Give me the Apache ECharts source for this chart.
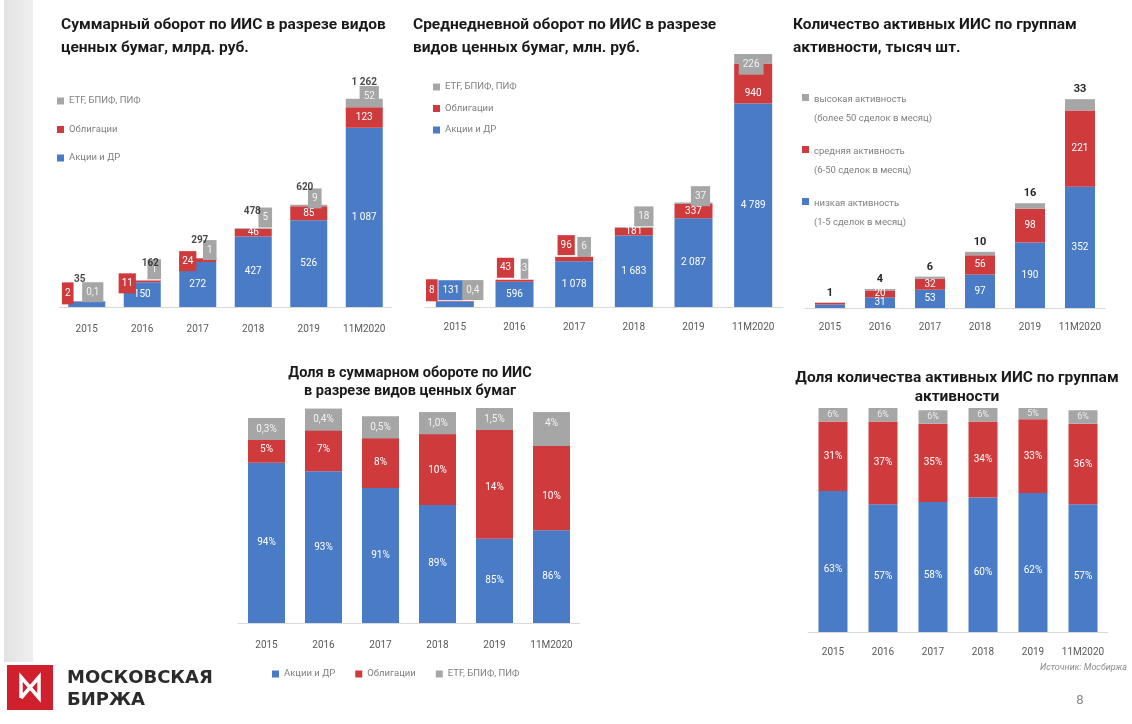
<!DOCTYPE html>
<html><head><meta charset="utf-8">
<script src="https://cdn.jsdelivr.net/npm/echarts@6/dist/echarts.min.js"></script>
<style>html,body{margin:0;padding:0;background:#fff}#c{width:1132px;height:724px}</style>
</head><body><div id="c"></div>
<script>
// ---------- DATA ----------
const years = ['2015', '2016', '2017', '2018', '2019', '11M2020'];
const secNames = ['Акции и ДР', 'Облигации', 'ETF, БПИФ, ПИФ'];
// 1. Суммарный оборот, млрд. руб.
const turnStocks = [33, 150, 272, 427, 526, 1087];
const turnBonds  = [2, 11, 24, 46, 85, 123];
const turnFunds  = [0.1, 1, 1, 5, 9, 52];
const turnTotal  = [35, 162, 297, 478, 620, 1262];
// 2. Среднедневной оборот, млн. руб.
const dailyStocks = [131, 596, 1078, 1683, 2087, 4789];
const dailyBonds  = [8, 43, 96, 181, 337, 940];
const dailyFunds  = [0.4, 3, 6, 18, 37, 226];
// 3. Количество активных ИИС, тысяч шт.
const actNames = ['низкая активность', 'средняя активность', 'высокая активность'];
const actSub = ['(1-5 сделок в месяц)', '(6-50 сделок в месяц)', '(более 50 сделок в месяц)'];
const accLow  = [10, 31, 53, 97, 190, 352];
const accMid  = [5, 20, 32, 56, 98, 221];
const accHigh = [1, 4, 6, 10, 16, 33];
// 4. Доля в суммарном обороте, %
const shareStocks = [94, 93, 91, 89, 85, 86];
const shareBonds  = [5, 7, 8, 10, 14, 10];
const shareFunds  = [0.3, 0.4, 0.5, 1.0, 1.5, 4];
// 5. Доля количества активных ИИС, %
const shareLow  = [63, 57, 58, 60, 62, 57];
const shareMid  = [31, 37, 35, 34, 33, 36];
const shareHigh = [6, 6, 6, 6, 5, 6];

// ---------- STYLE ----------
const BLUE = '#4a7bc6', RED = '#cf3a3c', GREY = '#a6a6a6';
const FONT = 'Roboto';

function fmt(v) {
  if (v < 1) return String(v).replace('.', ',');
  return String(v).replace(/\B(?=(\d{3})+(?!\d))/g, ' ');
}
function pct(v) {
  return (v < 2 ? v.toFixed(1).replace('.', ',') : String(v)) + '%';
}

// label callout placements (index -> offset / box)
const place1 = {
  stocks: {0: {hide: true}},
  bonds: {0: {off: [-19, -8], box: true, pad: [6, 3]}, 1: {off: [-15, 2], box: true, pad: [5, 3]}, 2: {off: [-10, 1], box: true, pad: [5, 3]}},
  funds: {0: {off: [6, -9], box: true}, 1: {off: [12, -11], box: true}, 2: {off: [12, -8], box: true}, 3: {off: [12, -11], box: true}, 4: {off: [6, -7], box: true}, 5: {off: [5, -7], box: true}},
  total: {0: {off: [-7, -15]}, 1: {off: [8, -10]}, 2: {off: [2, -10]}, 3: {off: [-1, -10]}, 4: {off: [-4, -10]}, 5: {off: [0, -9]}}
};
const place2 = {
  stocks: {0: {off: [-4, -14], box: true}},
  bonds: {0: {off: [-23, -11], box: true, pad: [6, 3]}, 1: {off: [-9, -13], box: true, pad: [5, 3]}, 2: {off: [-8, -14], box: true, pad: [5, 3]}, 5: {off: [0, 10]}},
  funds: {0: {off: [18, -11], box: true}, 1: {off: [10, -11], box: true, pad: [5, 1]}, 2: {off: [10, -10], box: true}, 3: {off: [10, -11], box: true}, 4: {off: [7, -7], box: true}, 5: {off: [-2, 6], box: true}}
};
const place3 = {low: {0: {hide: true}}, mid: {0: {hide: true}}};

function mk(vals, color, place) {
  return vals.map((v, i) => {
    const item = {value: v};
    const p = place && place[i];
    if (p) {
      if (p.hide) item.label = {show: false};
      else {
        item.label = {offset: p.off};
        if (p.box) Object.assign(item.label, {backgroundColor: color, padding: p.pad || [5, 4]});
      }
    }
    return item;
  });
}

function xAx(gi, margin) {
  return {type: 'category', gridIndex: gi, data: years,
    axisTick: {show: false},
    axisLine: {lineStyle: {color: '#d9d9d9', width: 1}},
    axisLabel: {color: '#595959', fontSize: 10, margin: margin, interval: 0, fontFamily: FONT}};
}
function yAx(gi, min, max) {
  return {type: 'value', gridIndex: gi, min: min, max: max, show: false};
}
function bar(name, gi, stack, data, color, width, label, clip) {
  return {type: 'bar', name: name, xAxisIndex: gi, yAxisIndex: gi, stack: stack,
    barWidth: width, data: data, itemStyle: {color: color}, clip: !!clip,
    emphasis: {disabled: true},
    label: Object.assign({show: true, position: 'inside', color: '#fff', fontSize: 10, fontFamily: FONT}, label || {})};
}
const titleStyle = {fontSize: 15.5, fontWeight: 'bold', color: '#1a1a1a', fontFamily: FONT, lineHeight: 23};
const legText = {fontSize: 9.5, color: '#7f7f7f', fontFamily: FONT, lineHeight: 12};

const option = {
  animation: false,
  backgroundColor: '#fff',
  textStyle: {fontFamily: FONT},
  title: [
    {text: 'Суммарный оборот по ИИС в разрезе видов\nценных бумаг, млрд. руб.', left: 56, top: 9, textStyle: titleStyle},
    {text: 'Среднедневной оборот по ИИС в разрезе\nвидов ценных бумаг, млн. руб.', left: 408, top: 9, textStyle: titleStyle},
    {text: 'Количество активных ИИС по группам\nактивности, тысяч шт.', left: 788, top: 9, textStyle: titleStyle},
    {text: 'Доля в суммарном обороте по ИИС\nв разрезе видов ценных бумаг', left: 405, textAlign: 'center', top: 359,
      textStyle: Object.assign({}, titleStyle, {fontSize: 14.5, lineHeight: 18})},
    {text: 'Доля количества активных ИИС по группам\nактивности', left: 952, textAlign: 'center', top: 364,
      textStyle: Object.assign({}, titleStyle, {lineHeight: 19})}
  ],
  legend: [
    {orient: 'vertical', left: 52, top: 90, itemGap: 16.5, itemWidth: 7, itemHeight: 7, icon: 'rect',
      data: [secNames[2], secNames[1], secNames[0]], textStyle: legText, selectedMode: false},
    {orient: 'vertical', left: 428, top: 76, itemGap: 9.5, itemWidth: 7, itemHeight: 7, icon: 'rect',
      data: [secNames[2], secNames[1], secNames[0]], textStyle: legText, selectedMode: false},
    {orient: 'vertical', left: 797, top: 85, itemGap: 14, itemWidth: 7, itemHeight: 30,
      icon: 'path://M0,0H7V7H0Z M0,30L0.01,30',
      data: [actNames[2], actNames[1], actNames[0]],
      formatter: n => n + '\n' + actSub[actNames.indexOf(n)],
      textStyle: Object.assign({}, legText, {lineHeight: 19}), selectedMode: false},
    {orient: 'horizontal', left: 267, top: 663, itemGap: 20, itemWidth: 7, itemHeight: 7, icon: 'rect',
      data: secNames, textStyle: legText, selectedMode: false}
  ],
  grid: [
    {left: 59, width: 333, top: 76, height: 231},
    {left: 425, width: 358, top: 52, height: 255},
    {left: 805, width: 300, top: 84, height: 224},
    {left: 238, width: 342, top: 408, height: 215},
    {left: 808, width: 300, top: 408, height: 224}
  ],
  xAxis: [xAx(0, 17), xAx(1, 15), xAx(2, 14), xAx(3, 17), xAx(4, 15)],
  yAxis: [yAx(0, 0, 1400), yAx(1, 0, 6000), yAx(2, 0, 650), yAx(3, 75, 100.5), yAx(4, 0, 100)],
  series: [
    // chart 1
    bar(secNames[0], 0, 's1', mk(turnStocks, BLUE, place1.stocks), BLUE, 37, {formatter: p => fmt(p.value)}),
    bar(secNames[1], 0, 's1', mk(turnBonds, RED, place1.bonds), RED, 37, {formatter: p => fmt(p.value)}),
    bar(secNames[2], 0, 's1', mk(turnFunds, GREY, place1.funds), GREY, 37, {formatter: p => fmt(p.value), color: '#f2f2f2'}),
    {type: 'scatter', name: 'Итого', xAxisIndex: 0, yAxisIndex: 0, symbolSize: 0, silent: true,
      data: mk(turnTotal, null, place1.total),
      label: {show: true, position: 'top', distance: 2, color: '#1a1a1a', fontWeight: 'bold', fontSize: 10,
        fontFamily: FONT, formatter: p => fmt(p.value)}},
    // chart 2
    bar(secNames[0], 1, 's2', mk(dailyStocks, BLUE, place2.stocks), BLUE, 38, {formatter: p => fmt(p.value)}),
    bar(secNames[1], 1, 's2', mk(dailyBonds, RED, place2.bonds), RED, 38, {formatter: p => fmt(p.value)}),
    bar(secNames[2], 1, 's2', mk(dailyFunds, GREY, place2.funds), GREY, 38, {formatter: p => fmt(p.value), color: '#f2f2f2'}),
    // chart 3
    bar(actNames[0], 2, 's3', mk(accLow, BLUE, place3.low), BLUE, 30, {formatter: p => fmt(p.value)}),
    bar(actNames[1], 2, 's3', mk(accMid, RED, place3.mid), RED, 30, {formatter: p => fmt(p.value)}),
    bar(actNames[2], 2, 's3', mk(accHigh, GREY), GREY, 30,
      {position: 'top', distance: 4, color: '#262626', fontWeight: 'bold', fontSize: 11, formatter: p => fmt(p.value)}),
    // chart 4 (axis starts at 75%, bars clipped to the plot)
    bar(secNames[0], 3, 's4', mk(shareStocks), BLUE, 37, {formatter: p => pct(p.value)}, true),
    bar(secNames[1], 3, 's4', mk(shareBonds), RED, 37, {formatter: p => pct(p.value), offset: [0, 8]}, true),
    bar(secNames[2], 3, 's4', mk(shareFunds), GREY, 37,
      {position: 'insideTop', distance: 0, backgroundColor: GREY, width: 37, align: 'center',
        padding: [5, 0], lineHeight: 12, color: '#f2f2f2', formatter: p => pct(p.value)}, true),
    // chart 5
    bar(actNames[0], 4, 's5', mk(shareLow), BLUE, 29, {formatter: p => p.value + '%', offset: [0, 8]}),
    bar(actNames[1], 4, 's5', mk(shareMid), RED, 29, {formatter: p => p.value + '%'}),
    bar(actNames[2], 4, 's5', mk(shareHigh), GREY, 29, {formatter: p => p.value + '%', color: '#eeeeee', fontSize: 9})
  ],
  graphic: [
    {type: 'rect', shape: {x: 4, y: 0, width: 29, height: 662}, silent: true,
      style: {fill: new echarts.graphic.LinearGradient(0, 0, 1, 0, [{offset: 0, color: '#e2e2e2'}, {offset: 1, color: '#efefef'}])}},
    {type: 'rect', shape: {x: 7, y: 665, width: 46, height: 45}, style: {fill: '#d0202e'}, silent: true},
    {type: 'polyline', shape: {points: [[21, 698], [21, 677], [39, 698], [39, 677], [21, 698]]}, silent: true,
      style: {stroke: '#fff', lineWidth: 3.5, fill: null, lineJoin: 'miter'}},
    {type: 'text', x: 67, y: 669, silent: true,
      style: {text: 'МОСКОВСКАЯ', fill: '#2b2b2b', font: 'bold 18px "DejaVu Sans"'}},
    {type: 'text', x: 67, y: 691, silent: true,
      style: {text: 'БИРЖА', fill: '#2b2b2b', font: 'bold 18px "DejaVu Sans"'}},
    {type: 'text', x: 1127, y: 663, silent: true,
      style: {text: 'Источник: Мосбиржа', fill: '#8c8c8c', font: 'italic 9px Roboto', align: 'right'}},
    {type: 'text', x: 1080, y: 694, silent: true,
      style: {text: '8', fill: '#8c8c8c', font: '13px Roboto', align: 'center'}}
  ]
};

const chart = echarts.init(document.getElementById('c'), null, {renderer: 'canvas'});
chart.setOption(option);
</script>
</body></html>
